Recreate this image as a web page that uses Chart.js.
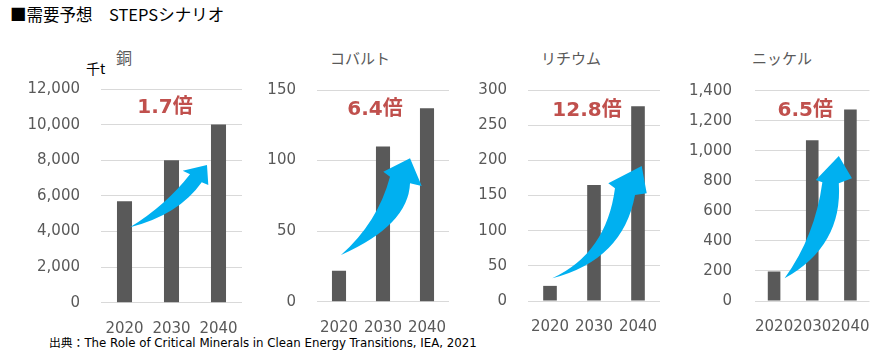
<!DOCTYPE html>
<html><head><meta charset="utf-8">
<script src="https://cdn.jsdelivr.net/npm/chart.js@4/dist/chart.umd.min.js"></script>
<style>
html,body{margin:0;padding:0;background:#fff;}
#wrap{position:relative;width:880px;height:358px;overflow:hidden;background:#fff;}
canvas{position:absolute;top:0;}
.t{position:absolute;white-space:nowrap;font-family:'Noto Sans CJK JP',sans-serif;line-height:1;}
.c{transform:translateX(-50%);}
</style></head><body>
<div id="wrap">
<div class="t" style="left:10px;top:6px;font-size:16.5px;color:#000;">■需要予想　STEPSシナリオ</div>
<div class="t" style="left:116px;top:49px;font-size:16px;color:#595959;">銅</div>
<div class="t" style="left:86px;top:61px;font-size:14px;color:#000;">千t</div>
<div class="t c" style="left:360px;top:50px;font-size:15px;color:#595959;">コバルト</div>
<div class="t c" style="left:571px;top:50px;font-size:15px;color:#595959;">リチウム</div>
<div class="t c" style="left:782px;top:50px;font-size:15px;color:#595959;">ニッケル</div>
<div class="t" style="left:49px;top:338px;font-size:11.8px;color:#000;font-family:'DejaVu Sans','Noto Sans CJK JP',sans-serif;">出典：The Role of Critical Minerals in Clean Energy Transitions, IEA, 2021</div>
<canvas id="c0" width="250" height="358" style="left:0px;width:250px;height:358px"></canvas>
<canvas id="c1" width="210" height="358" style="left:250px;width:210px;height:358px"></canvas>
<canvas id="c2" width="220" height="358" style="left:460px;width:220px;height:358px"></canvas>
<canvas id="c3" width="200" height="358" style="left:680px;width:200px;height:358px"></canvas>
</div>
<script>
// ---- data ----
const categories = ['2020', '2030', '2040'];
const copper  = [5700, 8000, 10000];
const cobalt  = [22, 110, 137];
const lithium = [21.5, 165, 277];
const nickel  = [197, 1070, 1275];
const yMax  = [12000, 150, 300, 1400];
const yStep = [2000, 50, 50, 200];
const multipliers = ['1.7倍', '6.4倍', '12.8倍', '6.5倍'];
// multiplier label anchors in data units [category index, value]
const labelAnchors = [[0.862, 10930], [0.818, 135.8], [0.841, 270.6], [0.818, 1265]];
// arrow outline in data units: tail, upper ctrl, upper join, wing1, tip, wing2, lower join, lower ctrl
const arrowCopper  = [[0.117,4230],[0.883,5475],[1.394,7210],[1.238,7412],[1.755,7732],[1.783,6609],[1.643,6760],[1.160,4941]];
const arrowCobalt  = [[0.045,33.1],[0.886,56.5],[1.159,88.6],[1.007,92.1],[1.614,101.6],[1.880,82.0],[1.614,83.9],[1.580,54.3]];
const arrowLithium = [[0.052,32.3],[1.282,67.8],[1.477,160.2],[1.325,167.3],[2.084,191.9],[2.198,153.1],[1.932,150.7],[1.659,58.3]];
const arrowNickel  = [[0.275,151],[1.074,431],[1.265,790],[1.094,805],[1.696,965],[2.040,817],[1.696,784],[1.802,367]];

const series = [copper, cobalt, lithium, nickel];
const arrows = [arrowCopper, arrowCobalt, arrowLithium, arrowNickel];

// ---- layout (panel geometry) ----
const layoutCfg = [
  {yw:101, pr:8,  top:89,   bottom:302.7, pad:21, bp:0.32},
  {yw:67,  pr:11, top:90,   bottom:301.7, pad:21, bp:0.32},
  {yw:68,  pr:20, top:90,   bottom:301,   pad:21, bp:0.31},
  {yw:75,  pr:9,  top:90.7, bottom:301,   pad:23, bp:0.33}
];

const deco = {
  id: 'deco',
  afterDatasetsDraw(chart, args, opts) {
    const xs = chart.scales.x, ys = chart.scales.y, ctx = chart.ctx;
    const P = p => [xs.getPixelForValue(p[0]), ys.getPixelForValue(p[1])];
    const [T, Cu, U, W1, H, W2, L, Cl] = opts.arrow.map(P);
    ctx.save();
    ctx.fillStyle = '#00B0F0';
    ctx.beginPath();
    ctx.moveTo(T[0], T[1]);
    ctx.quadraticCurveTo(Cu[0], Cu[1], U[0], U[1]);
    ctx.lineTo(W1[0], W1[1]);
    ctx.lineTo(H[0], H[1]);
    ctx.lineTo(W2[0], W2[1]);
    ctx.lineTo(L[0], L[1]);
    ctx.quadraticCurveTo(Cl[0], Cl[1], T[0], T[1]);
    ctx.closePath();
    ctx.fill();
    const [lx, ly] = P(opts.labelAt);
    ctx.font = 'bold 20px "DejaVu Sans", "Noto Sans CJK JP"';
    ctx.fillStyle = '#C0504D';
    ctx.textAlign = 'center';
    ctx.textBaseline = 'middle';
    ctx.fillText(opts.label, lx, ly);
    ctx.restore();
  }
};

series.forEach((vals, i) => {
  const g = layoutCfg[i];
  new Chart(document.getElementById('c' + i), {
    type: 'bar',
    data: {
      labels: categories,
      datasets: [{
        data: vals,
        backgroundColor: '#595959',
        categoryPercentage: 1,
        barPercentage: g.bp
      }]
    },
    options: {
      responsive: false,
      animation: false,
      devicePixelRatio: 1,
      layout: { padding: { top: g.top, right: g.pr, left: 0, bottom: 0 } },
      plugins: {
        legend: { display: false },
        tooltip: { enabled: false },
        deco: { arrow: arrows[i], label: multipliers[i], labelAt: labelAnchors[i] }
      },
      scales: {
        x: {
          grid: { display: false },
          border: { display: false },
          ticks: {
            color: '#595959',
            font: { family: 'DejaVu Sans', size: 15 },
            padding: 9,
            maxRotation: 0,
            autoSkip: false
          },
          afterFit(s) { s.height = 358 - g.bottom; }
        },
        y: {
          min: 0,
          max: yMax[i],
          grid: { color: '#d9d9d9', lineWidth: 1, drawTicks: false },
          border: { display: false },
          ticks: {
            stepSize: yStep[i],
            color: '#595959',
            font: { family: 'DejaVu Sans', size: 15 },
            padding: g.pad,
            callback: v => v.toLocaleString('en-US')
          },
          afterFit(s) { s.width = g.yw; }
        }
      }
    },
    plugins: [deco]
  });
});
</script>
</body></html>
